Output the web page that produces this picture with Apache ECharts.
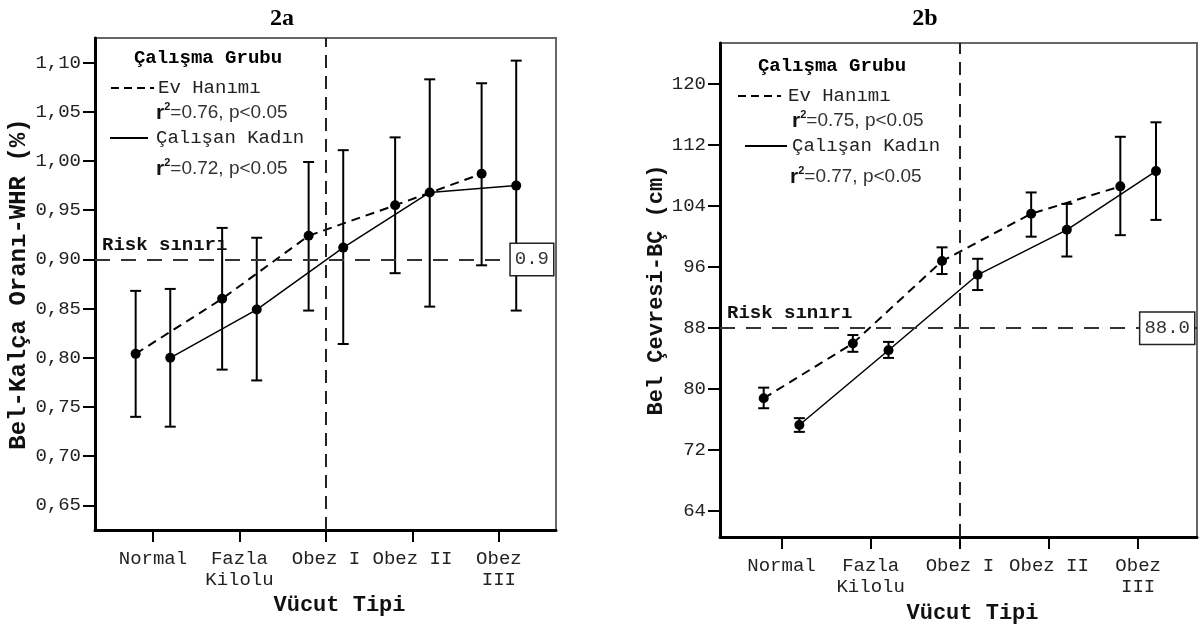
<!DOCTYPE html>
<html>
<head>
<meta charset="utf-8">
<script src="https://cdn.jsdelivr.net/npm/echarts@6/dist/echarts.min.js"></script>
<style>
  html, body { margin: 0; padding: 0; background: #fff; }
  #container { width: 1201px; height: 629px; }
</style>
</head>
<body>
<div id="container"></div>
<script>
var categories = ['Normal', 'Fazla\nKilolu', 'Obez I', 'Obez II', 'Obez\nIII'];

// 2a: Bel-Kalça Oranı (WHR)
var whrTicks = [0.65, 0.70, 0.75, 0.80, 0.85, 0.90, 0.95, 1.00, 1.05, 1.10];
var whrEvMean = [0.804, 0.860, 0.924, 0.955, 0.987];
var whrEvLow = [0.740, 0.788, 0.848, 0.886, 0.894];
var whrEvHigh = [0.868, 0.932, 0.999, 1.024, 1.079];
var whrCkMean = [0.800, 0.849, 0.912, 0.968, 0.975];
var whrCkLow = [0.730, 0.777, 0.814, 0.852, 0.848];
var whrCkHigh = [0.870, 0.922, 1.011, 1.083, 1.102];
var whrRisk = 0.9;

// 2b: Bel Çevresi (BÇ)
var bcTicks = [64, 72, 80, 88, 96, 104, 112, 120];
var bcEvMean = [78.8, 86.0, 96.8, 103.0, 106.6];
var bcEvLow = [77.5, 84.9, 95.1, 100.0, 100.2];
var bcEvHigh = [80.2, 87.1, 98.6, 105.8, 113.1];
var bcCkMean = [75.3, 85.1, 95.0, 100.9, 108.6];
var bcCkLow = [74.4, 84.1, 93.0, 97.4, 102.2];
var bcCkHigh = [76.2, 86.2, 97.1, 104.3, 115.0];
var bcRisk = 88;

var groups = ['Ev Hanımı', 'Çalışan Kadın'];
var r2Whr = ['0.76', '0.72'];
var r2Bc = ['0.75', '0.77'];

var dom = document.getElementById('container');
var myChart = echarts.init(dom, null, { renderer: 'canvas' });

var MONO = '"Liberation Mono", "Courier New", monospace';
var SANS = '"Liberation Sans", Arial, sans-serif';
var off = 0.2;

function pts(arr, dx) {
  return arr.map(function (v, i) { return [i + dx, v]; });
}
function bars(lo, hi, dx) {
  return lo.map(function (v, i) { return [i + dx, v, hi[i]]; });
}

function errRender(params, api) {
  var x = api.value(0);
  var top = api.coord([x, api.value(2)]);
  var bot = api.coord([x, api.value(1)]);
  var w = 5.5;
  var st = { stroke: '#000', lineWidth: 2 };
  return {
    type: 'group',
    children: [
      { type: 'line', shape: { x1: top[0], y1: top[1], x2: bot[0], y2: bot[1] }, style: st },
      { type: 'line', shape: { x1: top[0] - w, y1: top[1], x2: top[0] + w, y2: top[1] }, style: st },
      { type: 'line', shape: { x1: bot[0] - w, y1: bot[1], x2: bot[0] + w, y2: bot[1] }, style: st }
    ]
  };
}

function xAxisFor(idx, min, max) {
  return {
    type: 'value', gridIndex: idx, min: min, max: max,
    name: 'Vücut Tipi', nameLocation: 'middle', nameGap: 62,
    nameTextStyle: { fontFamily: MONO, fontWeight: 'bold', fontSize: 22, color: '#111', padding: [0, 0, 0, 28] },
    splitLine: { show: false },
    axisLine: { onZero: false, lineStyle: { color: '#000', width: 3 } },
    axisTick: { customValues: [0, 1, 2, 3, 4], length: 12, lineStyle: { color: '#000', width: 2 } },
    axisLabel: {
      customValues: [0, 1, 2, 3, 4],
      formatter: function (v) { return categories[Math.round(v)]; },
      fontFamily: MONO, fontSize: 19, color: '#222', lineHeight: 21, margin: 18
    }
  };
}

function yAxisFor(idx, min, max, ticks, name, gap, size, fmt) {
  return {
    type: 'value', gridIndex: idx, min: min, max: max,
    name: name, nameLocation: 'middle', nameGap: gap,
    nameTextStyle: { fontFamily: MONO, fontWeight: 'bold', fontSize: size, color: '#111' },
    splitLine: { show: false },
    axisLine: { onZero: false, lineStyle: { color: '#000', width: 3 } },
    axisTick: { customValues: ticks, length: 12, lineStyle: { color: '#000', width: 2 } },
    axisLabel: { customValues: ticks, formatter: fmt, fontFamily: MONO, fontSize: 19, color: '#222', margin: 14 }
  };
}

function panelSeries(idx, evMean, evLo, evHi, ckMean, ckLo, ckHi, risk, riskText) {
  return [
    {
      type: 'line', xAxisIndex: idx, yAxisIndex: idx, name: groups[0],
      data: pts(evMean, -off), symbol: 'circle', symbolSize: 10,
      itemStyle: { color: '#000' }, lineStyle: { color: '#000', width: 2, type: [9, 6] }, z: 4,
      markLine: {
        silent: true, symbol: ['none', 'none'], animation: false,
        lineStyle: { color: '#333', width: 2, type: [15, 11] },
        data: [
          { yAxis: risk, label: { show: true, position: 'insideStartTop', distance: [7, 5], formatter: 'Risk sınırı',
              fontFamily: MONO, fontWeight: 'bold', fontSize: 19, color: '#111' } },
          { yAxis: risk, label: { show: true, position: 'insideEnd', distance: [3, 0], formatter: riskText,
              fontFamily: MONO, fontSize: 19, color: '#333', lineHeight: 19, backgroundColor: '#fff',
              borderColor: '#222', borderWidth: 1.5, padding: [6, 4, 6, 4] } },
          { xAxis: 2, label: { show: false }, lineStyle: { color: '#222', width: 2, type: [13, 8] } }
        ]
      }
    },
    {
      type: 'line', xAxisIndex: idx, yAxisIndex: idx, name: groups[1],
      data: pts(ckMean, off), symbol: 'circle', symbolSize: 10,
      itemStyle: { color: '#000' }, lineStyle: { color: '#000', width: 1.5 }, z: 4
    },
    {
      type: 'custom', xAxisIndex: idx, yAxisIndex: idx, renderItem: errRender,
      encode: { x: 0, y: [1, 2] }, data: bars(evLo, evHi, -off), z: 3
    },
    {
      type: 'custom', xAxisIndex: idx, yAxisIndex: idx, renderItem: errRender,
      encode: { x: 0, y: [1, 2] }, data: bars(ckLo, ckHi, off), z: 3
    }
  ];
}

function r2Text(x, y, val) {
  return {
    type: 'text', x: x, y: y,
    style: {
      text: '{r|r}{s|2}{t|=' + val + ', p<0.05}',
      verticalAlign: 'middle',
      rich: {
        r: { fontFamily: SANS, fontWeight: 'bold', fontSize: 21, fill: '#111' },
        s: { fontFamily: SANS, fontWeight: 'bold', fontSize: 11, fill: '#111', padding: [0, 0, 13, 0] },
        t: { fontFamily: SANS, fontSize: 19, fill: '#333' }
      }
    }
  };
}

function legendBlock(cx, y0, dashX, solidX, textX, r2X, r2) {
  return [
    { type: 'text', x: cx, y: y0, style: { text: 'Çalışma Grubu', font: 'bold 19px ' + MONO, fill: '#000', align: 'center', verticalAlign: 'middle' } },
    { type: 'line', shape: { x1: dashX[0], y1: y0 + 30, x2: dashX[1], y2: y0 + 30 }, style: { stroke: '#000', lineWidth: 2, lineDash: [8, 5] } },
    { type: 'text', x: textX[0], y: y0 + 30, style: { text: groups[0], font: '19px ' + MONO, fill: '#222', verticalAlign: 'middle' } },
    r2Text(r2X[0], y0 + 55, r2[0]),
    { type: 'line', shape: { x1: solidX[0], y1: y0 + 80, x2: solidX[1], y2: y0 + 80 }, style: { stroke: '#000', lineWidth: 2 } },
    { type: 'text', x: textX[1], y: y0 + 80, style: { text: groups[1], font: '19px ' + MONO, fill: '#222', verticalAlign: 'middle' } },
    r2Text(r2X[1], y0 + 111, r2[1])
  ];
}

var titleStyle = { font: 'bold 24px "Liberation Serif", "Times New Roman", serif', fill: '#000', align: 'center', verticalAlign: 'middle' };

option = {
  backgroundColor: '#fff',
  animation: false,
  grid: [
    { left: 95, top: 38, width: 461, height: 492, show: true, borderColor: '#666', borderWidth: 2, backgroundColor: '#fff' },
    { left: 720, top: 43, width: 477, height: 495, show: true, borderColor: '#666', borderWidth: 2, backgroundColor: '#fff' }
  ],
  xAxis: [xAxisFor(0, -0.67, 4.66), xAxisFor(1, -0.69, 4.66)],
  yAxis: [
    yAxisFor(0, 0.625, 1.125, whrTicks, 'Bel-Kalça Oranı-WHR (%)', 64, 24,
      function (v) { return v.toFixed(2).replace('.', ','); }),
    yAxisFor(1, 60.6, 125.4, bcTicks, 'Bel Çevresi-BÇ (cm)', 52, 22,
      function (v) { return String(Math.round(v)); })
  ],
  series: [].concat(
    panelSeries(0, whrEvMean, whrEvLow, whrEvHigh, whrCkMean, whrCkLow, whrCkHigh, whrRisk, String(whrRisk)),
    panelSeries(1, bcEvMean, bcEvLow, bcEvHigh, bcCkMean, bcCkLow, bcCkHigh, bcRisk, bcRisk.toFixed(1))
  ),
  graphic: [
    { type: 'text', x: 282, y: 19, style: Object.assign({ text: '2a' }, titleStyle) },
    { type: 'text', x: 925, y: 19, style: Object.assign({ text: '2b' }, titleStyle) }
  ].concat(
    legendBlock(208, 58, [111, 154], [110, 148], [158, 156], [156, 156], r2Whr),
    legendBlock(832, 66, [738, 781], [745, 787], [788, 792], [792, 790], r2Bc)
  )
};

if (option && typeof option === 'object') {
  myChart.setOption(option);
}

window.addEventListener('resize', myChart.resize);
</script>
</body>
</html>
